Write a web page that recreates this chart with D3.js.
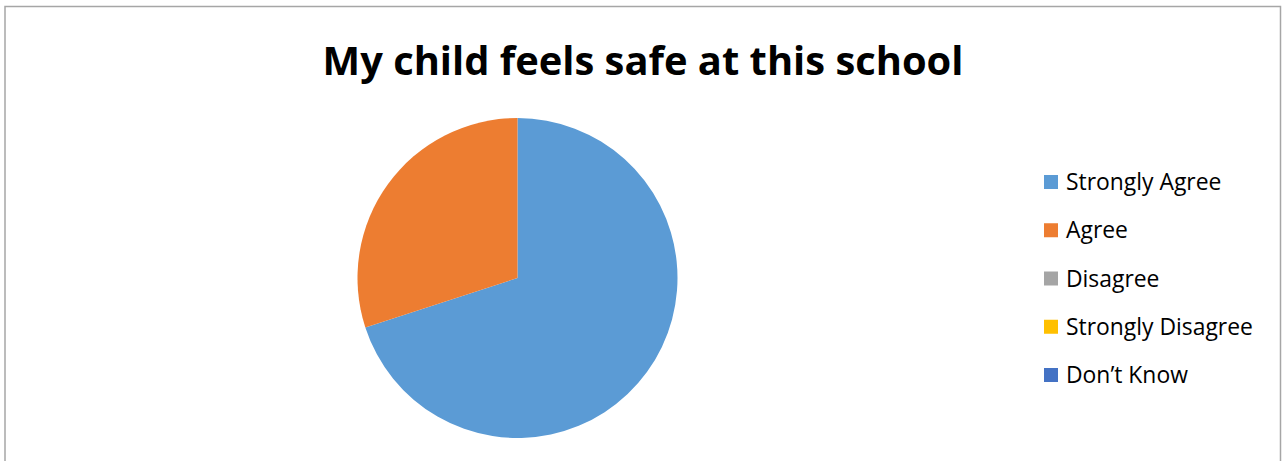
<!DOCTYPE html>
<html>
<head>
<meta charset="utf-8">
<script src="https://cdn.jsdelivr.net/npm/d3@7"></script>
<style>
html,body{margin:0;padding:0;background:#fff;}
svg{display:block;}
</style>
</head>
<body>
<svg id="chart" width="1285" height="461"></svg>
<script>
const categories = ["Strongly Agree", "Agree", "Disagree", "Strongly Disagree", "Don\u2019t Know"];
const values = [70, 30, 0, 0, 0];
const colors = ["#5b9bd5", "#ed7d31", "#a5a5a5", "#ffc000", "#4472c4"];
const title = "My child feels safe at this school";

const svg = d3.select("#chart");
const fontFam = "'Open Sans', 'Liberation Sans', sans-serif";

// chart border
svg.append("path")
  .attr("d", "M5,461 V6.5 H1280.5 V461")
  .attr("fill", "none").attr("stroke", "#a6a6a6").attr("stroke-width", 1.5);

// title, fitted to reference width
const t = svg.append("text")
  .attr("x", 643).attr("y", 75)
  .attr("text-anchor", "middle")
  .attr("font-family", fontFam)
  .attr("font-weight", "bold")
  .attr("font-size", 40)
  .attr("fill", "#000")
  .text(title);
{
  const w = t.node().getComputedTextLength();
  t.attr("font-size", 40 * 641 / w);
}

// pie
const data = categories.map((c, i) => ({cat: c, value: values[i], color: colors[i]}));
const pie = d3.pie().value(d => d.value).sort(null);
const arc = d3.arc().innerRadius(0).outerRadius(160);
const color = d3.scaleOrdinal().domain(categories).range(colors);

svg.append("g")
  .attr("transform", "translate(517.5,278)")
  .selectAll("path")
  .data(pie(data))
  .join("path")
  .attr("d", arc)
  .attr("fill", d => color(d.data.cat));

// legend
const legY = d3.scalePoint().domain(categories).range([182, 375]);
const leg = svg.append("g").selectAll("g")
  .data(categories)
  .join("g")
  .attr("transform", d => `translate(1044,${legY(d)})`);
leg.append("rect")
  .attr("x", 0).attr("y", -7).attr("width", 14).attr("height", 14)
  .attr("fill", d => color(d));
const lt = leg.append("text")
  .attr("x", 22).attr("y", 0)
  .attr("dy", "0.35em")
  .attr("font-family", fontFam)
  .attr("font-size", 20)
  .attr("fill", "#000")
  .text(d => d);
{
  const node = lt.filter(d => d === "Strongly Disagree").node();
  const w = node.getComputedTextLength();
  lt.attr("font-size", 20 * 187 / w);
}
</script>
</body>
</html>
